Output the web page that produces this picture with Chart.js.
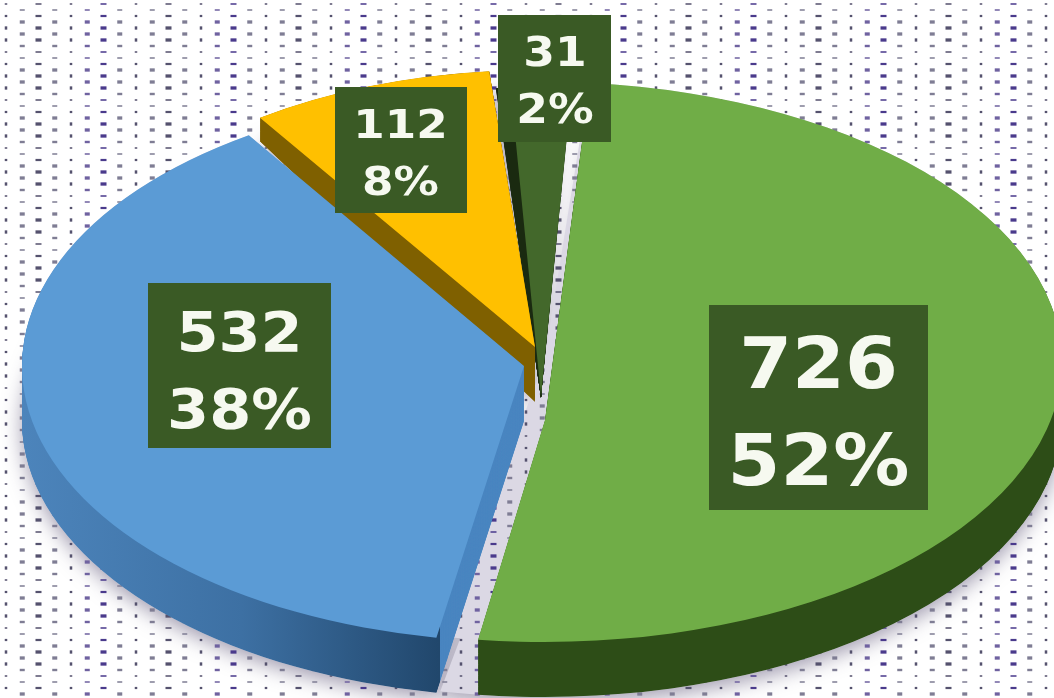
<!DOCTYPE html>
<html>
<head>
<meta charset="utf-8">
<style>html,body{margin:0;padding:0;background:#fff;overflow:hidden}canvas{display:block}</style>
<script src="https://cdn.jsdelivr.net/npm/chart.js@4"></script>
</head>
<body>
<canvas id="c" width="1054" height="698"></canvas>
<script>
const sliceNames = ['Slice A', 'Slice B', 'Slice C', 'Slice D'];
const sliceValues = [726, 532, 112, 31];
const percentLabels = ['52%', '38%', '8%', '2%'];
const topColors = ['#70ad47', '#5b9bd5', '#ffc000', '#43682b'];

// Layout only: projected ellipse of each slice, top face and bottom face
const sliceLayout = [
  {rot:0, clip:[[590,82],[545,420],[478,640],[478,900],[1300,900],[1300,-100],[590,-100]],
   top:{cx:544,cy:362,rx:518,ry:280,skew:0}, bottom:{cx:544,cy:417,rx:518,ry:280,skew:0}},
  {rot:-1.5, splitX:440, faceColor:'#4a86c0',
   top:{cx:524,cy:366,rx:502,ry:276,skew:0}, bottom:{cx:524,cy:421,rx:502,ry:276,skew:0}},
  {rot:-2.4, top:{cx:535,cy:347,rx:490,ry:277,skew:0}, bottom:{cx:535,cy:402,rx:490,ry:315,skew:0}},
  {rot:0, top:{cx:541,cy:396,rx:443,ry:310,skew:.025}, bottom:{cx:541,cy:398,rx:443,ry:310,skew:.072}}
];
const sideStyles = [
  [[0,'#2d4d17'],[1,'#2d4d17']],
  [[0,'#4c84bb'],[.5,'#3d70a3'],[1,'#1f4468']],
  [[0,'#7f6000'],[1,'#7f6000']],
  [[0,'#1a2a10'],[1,'#1a2a10']]
];
const labelBoxes = [
  {cx:818.5,cy:407.5,w:219,h:205,tx:818.5,font:71,stretch:1.07,y1:362,y2:459},
  {cx:239.5,cy:365.5,w:183,h:165,tx:239.5,font:56,stretch:1.08,y1:330.5,y2:407.5},
  {cx:401,cy:150,w:132,h:126,tx:400.5,font:39,stretch:1.16,y1:124,y2:181},
  {cx:554.5,cy:78.5,w:113,h:127,tx:555,font:40,stretch:1.14,y1:51.5,y2:108}
];
const drawOrder = [3, 2, 1, 0];
const dotWidths = [2.5, 5, 6, 5];
const dotHeights = [1.5, 1.5, 2.2, 3.3, 3.3, 3.3, 3.3, 2.4];
const lerp = (a, b, t) => a + (b - a) * t;

function applyMatrix(ctx, el, m, rot) {
  const R = el.outerRadius, sx = m.rx / R, sy = m.ry / R;
  ctx.translate(m.cx, m.cy);
  ctx.transform(sx, 0, m.skew * sy, sy, 0, 0);
  ctx.rotate((rot || 0) * Math.PI / 180);
  ctx.translate(-el.x, -el.y);
}
function mix(a, b, t) {
  return {cx:lerp(a.cx,b.cx,t),cy:lerp(a.cy,b.cy,t),rx:lerp(a.rx,b.rx,t),ry:lerp(a.ry,b.ry,t),skew:lerp(a.skew,b.skew,t)};
}
function drawWith(ctx, el, fill) {
  const saved = el.options;
  el.options = Object.assign({}, saved, {backgroundColor: fill, borderWidth: 0});
  el.draw(ctx);
  el.options = saved;
}
function sideFill(ctx, el, m, i, x0, x1) {
  const sx = m.rx / el.outerRadius;
  const g = ctx.createLinearGradient(el.x + (x0 - m.cx) / sx, 0, el.x + (x1 - m.cx) / sx, 0);
  sideStyles[i].forEach(s => g.addColorStop(s[0], s[1]));
  return g;
}
function clipFor(ctx, L, m) {
  if (!L.clip) return;
  const dy = m.cy - L.top.cy;
  ctx.beginPath();
  L.clip.forEach((p, k) => k ? ctx.lineTo(p[0], p[1] + dy) : ctx.moveTo(p[0], p[1] + dy));
  ctx.closePath();
  ctx.clip();
}
function drawDots(chart) {
  const ctx = chart.ctx;
  ctx.save();
  for (let r = 0; r * 6 + 4 < chart.height + 6; r++) {
    for (let c = 0; c * 16.25 + 6 < chart.width + 6; c++) {
      if ((r + c) % 2) continue;
      const w = dotWidths[c % 4], h = dotHeights[r % 8];
      const purple = (c % 8 === 5 || c % 8 === 6);
      const light = (c % 4 === 3 || c % 4 === 1);
      ctx.fillStyle = purple ? (light ? '#6f62a0' : '#4a3a8c') : (light ? '#7f7d94' : '#55526e');
      ctx.fillRect(c * 16.25 + 6 - w / 2, r * 6 + 4 - h / 2, w, h);
    }
  }
  ctx.restore();
}

const pie3d = {
  id: 'pie3d',
  beforeDraw(chart) {
    chart.ctx.save();
    chart.ctx.fillStyle = '#ffffff';
    chart.ctx.fillRect(0, 0, chart.width, chart.height);
    chart.ctx.restore();
  },
  beforeDatasetsDraw(chart) {
    const ctx = chart.ctx, arcs = chart.getDatasetMeta(0).data;
    // soft cast shadow and pale gap tint beneath the pie
    drawOrder.forEach(i => {
      const L = sliceLayout[i];
      ctx.save();
      ctx.shadowColor = 'rgba(70,60,100,.5)';
      ctx.shadowBlur = 20;
      ctx.shadowOffsetY = 6;
      applyMatrix(ctx, arcs[i], L.bottom, L.rot);
      drawWith(ctx, arcs[i], '#dbd8e4');
      ctx.restore();
      ctx.save();
      applyMatrix(ctx, arcs[i], L.top, L.rot);
      drawWith(ctx, arcs[i], '#dbd8e4');
      ctx.restore();
    });
    drawDots(chart);
    drawOrder.forEach(i => {
      const L = sliceLayout[i], el = arcs[i], steps = 70;
      const split = L.splitX || chart.width + 100;
      for (let s = steps; s > 0; s--) {
        const m = mix(L.top, L.bottom, s / steps);
        ctx.save();
        clipFor(ctx, L, m);
        ctx.beginPath();
        ctx.rect(-100, -100, split + 100, chart.height + 300);
        ctx.clip();
        applyMatrix(ctx, el, m, L.rot);
        drawWith(ctx, el, sideFill(ctx, el, m, i, 22, split));
        ctx.restore();
        if (L.faceColor) {
          ctx.save();
          ctx.beginPath();
          ctx.rect(split, -100, chart.width, chart.height + 300);
          ctx.clip();
          applyMatrix(ctx, el, m, L.rot);
          drawWith(ctx, el, L.faceColor);
          ctx.restore();
        }
      }
      ctx.save();
      clipFor(ctx, L, L.top);
      applyMatrix(ctx, el, L.top, L.rot);
      drawWith(ctx, el, topColors[i]);
      ctx.restore();
    });
    return false;
  },
  afterDraw(chart) {
    const ctx = chart.ctx;
    const line = (text, b, yc) => {
      ctx.save();
      ctx.translate(b.tx, yc + 0.3645 * b.font);
      ctx.scale(b.stretch, 1);
      ctx.fillText(text, 0, 0);
      ctx.restore();
    };
    labelBoxes.forEach((b, i) => {
      ctx.save();
      ctx.fillStyle = '#3a5a25';
      ctx.fillRect(b.cx - b.w / 2, b.cy - b.h / 2, b.w, b.h);
      ctx.fillStyle = '#f6f9f0';
      ctx.textAlign = 'center';
      ctx.textBaseline = 'alphabetic';
      ctx.font = 'bold ' + b.font + 'px "DejaVu Sans"';
      line(String(sliceValues[i]), b, b.y1);
      line(percentLabels[i], b, b.y2);
      ctx.restore();
    });
  }
};

new Chart(document.getElementById('c'), {
  type: 'pie',
  data: {
    labels: sliceNames,
    datasets: [{data: sliceValues, backgroundColor: topColors, borderWidth: 0, rotation: 5}]
  },
  options: {
    responsive: false,
    animation: false,
    layout: {padding: 0},
    plugins: {legend: {display: false}, tooltip: {enabled: false}, title: {display: false}}
  },
  plugins: [pie3d]
});
</script>
</body>
</html>
